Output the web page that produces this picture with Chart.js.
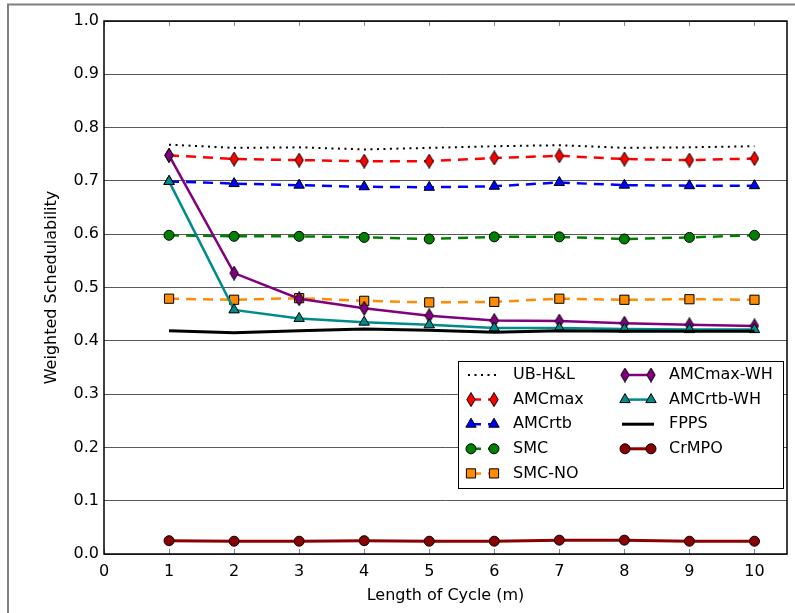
<!DOCTYPE html>
<html>
<head>
<meta charset="utf-8">
<script src="https://cdn.jsdelivr.net/npm/chart.js@4.4.0/dist/chart.umd.min.js"></script>
<style>
  html, body { margin: 0; padding: 0; background: #fff; }
  canvas { display: block; }
</style>
</head>
<body>
<canvas id="sched-chart" width="795" height="613"></canvas>
<script>
// Weighted schedulability vs length of cycle
var cycleLengths = [1, 2, 3, 4, 5, 6, 7, 8, 9, 10];
var xTickValues = [0, 1, 2, 3, 4, 5, 6, 7, 8, 9, 10];
var yTickValues = [0, 0.1, 0.2, 0.3, 0.4, 0.5, 0.6, 0.7, 0.8, 0.9, 1.0];

var ubHL     = [0.768, 0.762, 0.763, 0.759, 0.762, 0.765, 0.767, 0.762, 0.763, 0.765];
var amcMax   = [0.748, 0.741, 0.739, 0.737, 0.737, 0.743, 0.747, 0.741, 0.739, 0.742];
var amcRtb   = [0.699, 0.695, 0.692, 0.689, 0.688, 0.690, 0.697, 0.692, 0.691, 0.691];
var smc      = [0.598, 0.596, 0.596, 0.594, 0.591, 0.595, 0.595, 0.591, 0.594, 0.598];
var smcNo    = [0.479, 0.477, 0.480, 0.475, 0.472, 0.473, 0.479, 0.477, 0.478, 0.477];
var amcMaxWH = [0.748, 0.527, 0.479, 0.461, 0.447, 0.438, 0.437, 0.433, 0.430, 0.428];
var amcRtbWH = [0.699, 0.458, 0.442, 0.435, 0.430, 0.424, 0.424, 0.422, 0.421, 0.421];
var fpps     = [0.419, 0.415, 0.419, 0.422, 0.420, 0.416, 0.419, 0.418, 0.418, 0.418];
var crMPO    = [0.025, 0.024, 0.024, 0.025, 0.024, 0.024, 0.026, 0.026, 0.024, 0.024];

// matplotlib-like thin diamond marker
function thinDiamond(fill) {
    var c = document.createElement('canvas');
    c.width = 10; c.height = 15;
    var g = c.getContext('2d');
    g.beginPath();
    g.moveTo(5, 0.5); g.lineTo(9.2, 7.5); g.lineTo(5, 14.5); g.lineTo(0.8, 7.5);
    g.closePath();
    g.fillStyle = fill; g.fill();
    g.strokeStyle = '#000'; g.lineWidth = 1; g.stroke();
    return c;
}

function pts(values) {
    return values.map(function (v, i) { return { x: cycleLengths[i], y: v }; });
}

function series(label, values, color, dash, width, marker, radius) {
    return {
        label: label,
        data: pts(values),
        borderColor: color,
        backgroundColor: color,
        borderWidth: width,
        borderDash: dash,
        pointStyle: marker || 'circle',
        pointRadius: marker ? radius : 0,
        pointHoverRadius: marker ? radius : 0,
        pointBackgroundColor: color,
        pointBorderColor: '#000',
        pointBorderWidth: 1,
        tension: 0
    };
}

var datasets = [
    series('UB-H&L', ubHL, '#000000', [2, 4.5], 2, null, 0),
    series('AMCmax', amcMax, '#ff0000', [10, 7], 2.5, thinDiamond('#ff0000'), 7),
    series('AMCrtb', amcRtb, '#0000ff', [10, 7], 2.5, 'triangle', 6),
    series('SMC', smc, '#008000', [10, 7], 2.5, 'circle', 5),
    series('SMC-NO', smcNo, '#ff8c00', [10, 7], 2.5, 'rect', 6.5),
    series('AMCmax-WH', amcMaxWH, '#800080', [], 2.5, thinDiamond('#800080'), 7),
    series('AMCrtb-WH', amcRtbWH, '#008b8b', [], 2.5, 'triangle', 6),
    series('FPPS', fpps, '#000000', [], 3, null, 0),
    series('CrMPO', crMPO, '#8b0000', [], 3, 'circle', 5)
];
// later series drawn on top, like matplotlib
datasets.forEach(function (d, i) { d.order = datasets.length - i; });

var fontFamily = "'DejaVu Sans', sans-serif";

var framePlugin = {
    id: 'frame',
    beforeDraw: function (chart) {
        var ctx = chart.ctx;
        ctx.save();
        ctx.fillStyle = '#fff';
        ctx.fillRect(0, 0, chart.width, chart.height);
        // outer figure border (only top/left visible)
        ctx.strokeStyle = '#808080';
        ctx.lineWidth = 2;
        ctx.beginPath();
        ctx.moveTo(8, 700); ctx.lineTo(8, 4.5); ctx.lineTo(900, 4.5);
        ctx.stroke();
        ctx.restore();
    },
    afterDraw: function (chart) {
        var ctx = chart.ctx, a = chart.chartArea, xs = chart.scales.x;
        ctx.save();
        // inward x ticks
        ctx.strokeStyle = '#888';
        ctx.lineWidth = 1;
        xTickValues.forEach(function (v) {
            var px = Math.round(xs.getPixelForValue(v)) + 0.5;
            ctx.beginPath();
            ctx.moveTo(px, a.bottom); ctx.lineTo(px, a.bottom - 5);
            ctx.moveTo(px, a.top); ctx.lineTo(px, a.top + 5);
            ctx.stroke();
        });
        // axes box
        ctx.strokeStyle = '#000';
        ctx.lineWidth = 1.5;
        ctx.strokeRect(a.left, a.top, a.right - a.left, a.bottom - a.top);

        // legend
        var box = { x: 458.5, y: 361.5, w: 325, h: 127 };
        ctx.fillStyle = '#fff';
        ctx.fillRect(box.x, box.y, box.w, box.h);
        ctx.lineWidth = 1;
        ctx.strokeRect(box.x, box.y, box.w, box.h);
        ctx.font = '16px ' + fontFamily;
        ctx.textBaseline = 'middle';
        ctx.textAlign = 'left';
        chart.data.datasets.forEach(function (d, i) {
            var col = i < 5 ? 0 : 1;
            var row = col ? i - 5 : i;
            var y = 375 + row * 24.6;
            var x1 = col ? 625 : 471;
            var x2 = col ? 651 : 494;
            var tx = col ? 669 : 513;
            ctx.strokeStyle = d.borderColor;
            ctx.lineWidth = d.borderWidth;
            ctx.setLineDash(d.borderDash || []);
            ctx.beginPath();
            if (d.pointRadius === 0) {
                ctx.moveTo(x1 - 3, y); ctx.lineTo(x2 + 3, y);
            } else {
                ctx.moveTo(x1, y); ctx.lineTo(x2, y);
            }
            ctx.stroke();
            ctx.setLineDash([]);
            if (d.pointRadius > 0) {
                [x1, x2].forEach(function (px) {
                    ctx.fillStyle = d.pointBackgroundColor;
                    ctx.strokeStyle = '#000';
                    ctx.lineWidth = 1;
                    Chart.helpers.drawPoint(ctx, {
                        pointStyle: d.pointStyle, rotation: 0,
                        radius: d.pointRadius, borderWidth: 1
                    }, px, y);
                });
            }
            ctx.fillStyle = '#000';
            ctx.fillText(d.label, tx, y);
        });
        ctx.restore();
    }
};

var ctx = document.getElementById('sched-chart');
var schedChart = new Chart(ctx, {
    type: 'line',
    data: { datasets: datasets },
    options: {
        responsive: false,
        animation: false,
        events: [],
        layout: { padding: { left: 0, right: 3, top: 21, bottom: 0 } },
        plugins: {
            legend: { display: false },
            tooltip: { enabled: false }
        },
        scales: {
            x: {
                type: 'linear',
                min: 0,
                max: 10.5,
                afterFit: function (s) {
                    s.height = 59;
                    s.paddingLeft = 0;
                    s.paddingRight = 0;
                },
                afterBuildTicks: function (s) {
                    s.ticks = xTickValues.map(function (v) { return { value: v }; });
                },
                ticks: {
                    color: '#000',
                    padding: 8,
                    maxRotation: 0,
                    font: { family: fontFamily, size: 16 },
                    callback: function (v) { return String(v); }
                },
                grid: { display: false, drawTicks: false },
                border: { display: false },
                title: {
                    display: true,
                    text: 'Length of Cycle (m)',
                    color: '#000',
                    font: { family: fontFamily, size: 16 },
                    padding: { top: 0, bottom: 8 }
                }
            },
            y: {
                type: 'linear',
                min: 0,
                max: 1,
                afterFit: function (s) { s.width = 104; },
                afterBuildTicks: function (s) {
                    s.ticks = yTickValues.map(function (v) { return { value: v }; });
                },
                ticks: {
                    color: '#000',
                    padding: 5,
                    font: { family: fontFamily, size: 16 },
                    callback: function (v) { return Number(v).toFixed(1); }
                },
                grid: { color: 'rgba(0,0,0,0.65)', lineWidth: 1, drawTicks: false },
                border: { display: false },
                title: {
                    display: true,
                    text: 'Weighted Schedulability',
                    color: '#000',
                    font: { family: fontFamily, size: 16 },
                    padding: { top: 42, bottom: 0 }
                }
            }
        }
    },
    plugins: [framePlugin]
});
</script>
</body>
</html>
